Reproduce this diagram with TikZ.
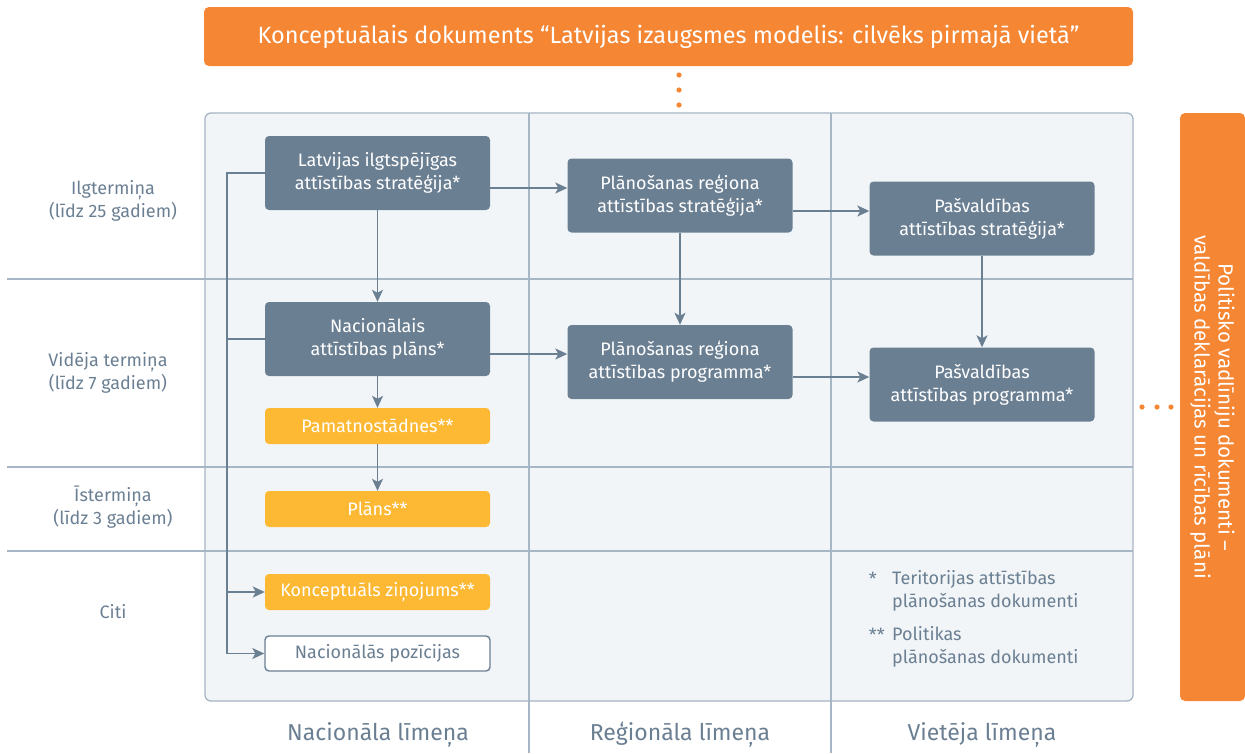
\documentclass[tikz,border=0pt]{standalone}
\usepackage{fontspec}
\setmainfont{Fira Sans}
\usetikzlibrary{arrows.meta}
\definecolor{slate}{HTML}{6B7F93}
\definecolor{gold}{HTML}{FDB933}
\definecolor{tangerine}{HTML}{F58634}
\definecolor{panelfill}{HTML}{F1F5F7}
\definecolor{gridline}{HTML}{A7B6C4}
\begin{document}
\begin{tikzpicture}[x=1pt,y=-1pt,
		box/.style={rounded corners=4pt,minimum width=225pt,minimum height=74pt,inner sep=0pt,align=center,text=white,font=\fontsize{18}{23}\selectfont},
		darkbox/.style={box,fill=slate},
		yellowbox/.style={box,fill=gold,minimum height=36pt},
		openbox/.style={box,fill=white,draw=slate,line width=1.4pt,minimum height=35pt,text=slate},
		rowlabel/.style={align=center,text=slate,font=\fontsize{18}{23}\selectfont},
		collabel/.style={text=slate,font=\fontsize{23}{26}\selectfont},
		legend/.style={align=left,text=slate,inner sep=0pt,font=\fontsize{18}{23}\selectfont},
		wire/.style={draw=slate,line width=1.4pt},
		link/.style={wire,-{Stealth[length=12pt,width=11pt,inset=3pt]}},
		grid line/.style={draw=gridline,line width=1.3pt}]
	\useasboundingbox (0,0) rectangle (1245,753);

	% panel and grid
	\fill[panelfill,rounded corners=6pt] (205,113) rectangle (1133,701);
	\foreach \y in {279,467,551}
		\draw[grid line] (7,\y) -- (1133,\y);
	\foreach \x in {529,831}
		\draw[grid line] (\x,113) -- (\x,753);
	\draw[grid line,rounded corners=6pt] (205,113) rectangle (1133,701);

	% top banner
	\node[fill=tangerine,rounded corners=5pt,minimum width=929pt,minimum height=59pt,text=white,font=\fontsize{23.5}{26}\selectfont] (banner) at (668.5,36.5) {Konceptuālais dokuments “Latvijas izaugsmes modelis: cilvēks pirmajā vietā”};
	\foreach \y in {75,90,105}
		\fill[tangerine] (679,\y) circle (2.6pt);

	% side banner
	\node[fill=tangerine,rounded corners=5pt,rotate=-90,minimum width=588pt,minimum height=65pt,align=center,text=white,font=\fontsize{20.5}{24}\selectfont] (side) at (1212.5,407) {Politisko vadlīniju dokumenti –\\valdības deklarācijas un rīcības plāni};
	\foreach \x in {1142,1157,1171}
		\fill[tangerine] (\x,407) circle (2.6pt);

	% row and column labels
	\node[rowlabel] (long) at (113,201) {Ilgtermiņa\\(līdz 25 gadiem)};
	\node[rowlabel] (mid) at (108,373) {Vidēja termiņa\\(līdz 7 gadiem)};
	\node[rowlabel] (short) at (113,507) {Īstermiņa\\(līdz 3 gadiem)};
	\node[rowlabel] (other) at (113,612) {Citi};
	\node[collabel] (national) at (378,735) {Nacionāla līmeņa};
	\node[collabel] (regional) at (680,735) {Reģionāla līmeņa};
	\node[collabel] (local) at (982,735) {Vietēja līmeņa};

	% national level
	\node[darkbox] (lias) at (377.5,173) {Latvijas ilgtspējīgas\\attīstības stratēģija*};
	\node[darkbox] (nap) at (377.5,339) {Nacionālais\\attīstības plāns*};
	\node[yellowbox] (pamat) at (377.5,426) {Pamatnostādnes**};
	\node[yellowbox] (plans) at (377.5,509) {Plāns**};
	\node[yellowbox] (konc) at (377.5,592) {Konceptuāls ziņojums**};
	\node[openbox] (poz) at (377.5,653.5) {Nacionālās pozīcijas};

	% regional and local level
	\node[darkbox] (prs) at (680,195.5) {Plānošanas reģiona\\attīstības stratēģija*};
	\node[darkbox] (prp) at (680,362) {Plānošanas reģiona\\attīstības programma*};
	\node[darkbox] (pass) at (982,218.5) {Pašvaldības\\attīstības stratēģija*};
	\node[darkbox] (pasp) at (982,384.5) {Pašvaldības\\attīstības programma*};

	% legend
	\node[legend,anchor=north east] (star1) at (877,572) {*};
	\node[legend,anchor=north west] (note1) at (892,570) {Teritorijas attīstības\\plānošanas dokumenti};
	\node[legend,anchor=north east] (star2) at (885,628) {**};
	\node[legend,anchor=north west] (note2) at (892,626) {Politikas\\plānošanas dokumenti};

	% connectors
	\coordinate (bus) at (227,0);
	\draw[wire] (lias.west) -- (lias.west -| bus) -- (poz.west -| bus);
	\draw[wire] (nap.west -| bus) -- (nap.west);
	\draw[link] (konc.west -| bus) -- (konc.west);
	\draw[link] (poz.west -| bus) -- (poz.west);

	\draw[link] (lias) -- (nap);
	\draw[link] (nap) -- (pamat);
	\draw[link] (pamat) -- (plans);
	\draw[link] (prs) -- (prp);
	\draw[link] (pass) -- (pasp);

	\draw[link] (lias.east |- 0,188) -- (prs.west |- 0,188);
	\draw[link] (prs.east |- 0,211) -- (pass.west |- 0,211);
	\draw[link] (nap.east |- 0,354) -- (prp.west |- 0,354);
	\draw[link] (prp.east |- 0,377) -- (pasp.west |- 0,377);
\end{tikzpicture}
\end{document}
